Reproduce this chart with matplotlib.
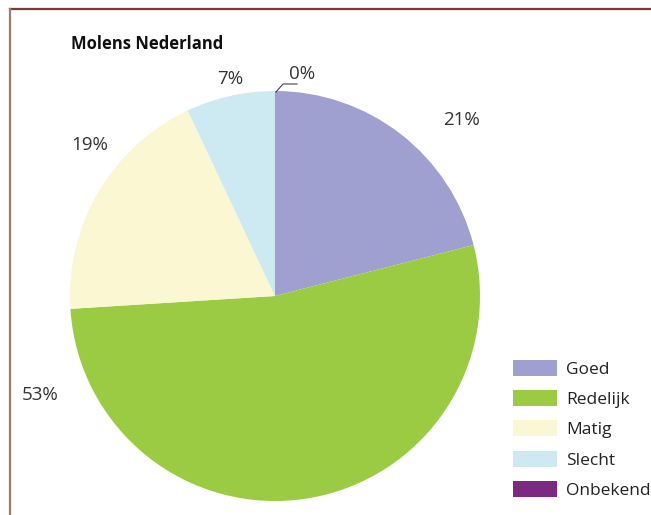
import matplotlib
matplotlib.use("Agg")
import matplotlib.pyplot as plt
from matplotlib.lines import Line2D

plt.rcParams['font.family'] = ['Open Sans', 'DejaVu Sans']

W, H = 651, 515

title = "Molens Nederland"
categories = ["Goed", "Redelijk", "Matig", "Slecht", "Onbekend"]
shares = [21, 53, 19, 7, 0]
colors = ["#9fa0d0", "#9bcb43", "#faf7d2", "#cdeaf2", "#7b2a82"]
# label anchor points in pixels (x, y from top)
label_pos = [(462, 120), (40, 395), (90, 145), (230, 79), (302, 74)]

fig = plt.figure(figsize=(W / 100, H / 100), dpi=100)
ax = fig.add_axes([0, 0, 1, 1])

def px(x, y):
    return x, H - y

cx, cy = px(275, 296)
wedges, _ = ax.pie(shares, colors=colors, startangle=90, counterclock=False,
                   center=(cx, cy), radius=205, frame=True,
                   wedgeprops=dict(linewidth=0))
ax.set_xlim(0, W)
ax.set_ylim(0, H)
ax.set_aspect('equal')
ax.axis('off')

for v, (x, y) in zip(shares, label_pos):
    ax.text(*px(x, y), f"{v}%", ha='center', va='center', fontsize=13.5,
            color='#333333')

# leader line for the 0% slice
lx, ly = zip(px(276, 92), px(283, 84), px(297, 84))
ax.plot(lx, ly, color='#444444', lw=0.8)

ax.text(*px(71, 44), title, ha='left', va='center', fontsize=12,
        fontweight='bold', color='#111111')

fs = 12.5
fpx = fs * 100 / 72
leg = ax.legend(wedges, categories, loc='upper left',
                bbox_to_anchor=px(513, 360), bbox_transform=ax.transData,
                frameon=False, fontsize=fs, borderpad=0, borderaxespad=0,
                handlelength=44 / fpx, handleheight=18 / fpx,
                handletextpad=9 / fpx, labelspacing=0.71)
for t in leg.get_texts():
    t.set_color('#222222')

# frame lines (top and left)
fig.add_artist(Line2D([10 / W, 1], [1 - 9 / H, 1 - 9 / H], color='#7b3a32', lw=1.6))
fig.add_artist(Line2D([10 / W, 10 / W], [0, 1 - 9 / H], color='#9c7a72', lw=1.6))

fig.savefig("out.png", dpi=100)
